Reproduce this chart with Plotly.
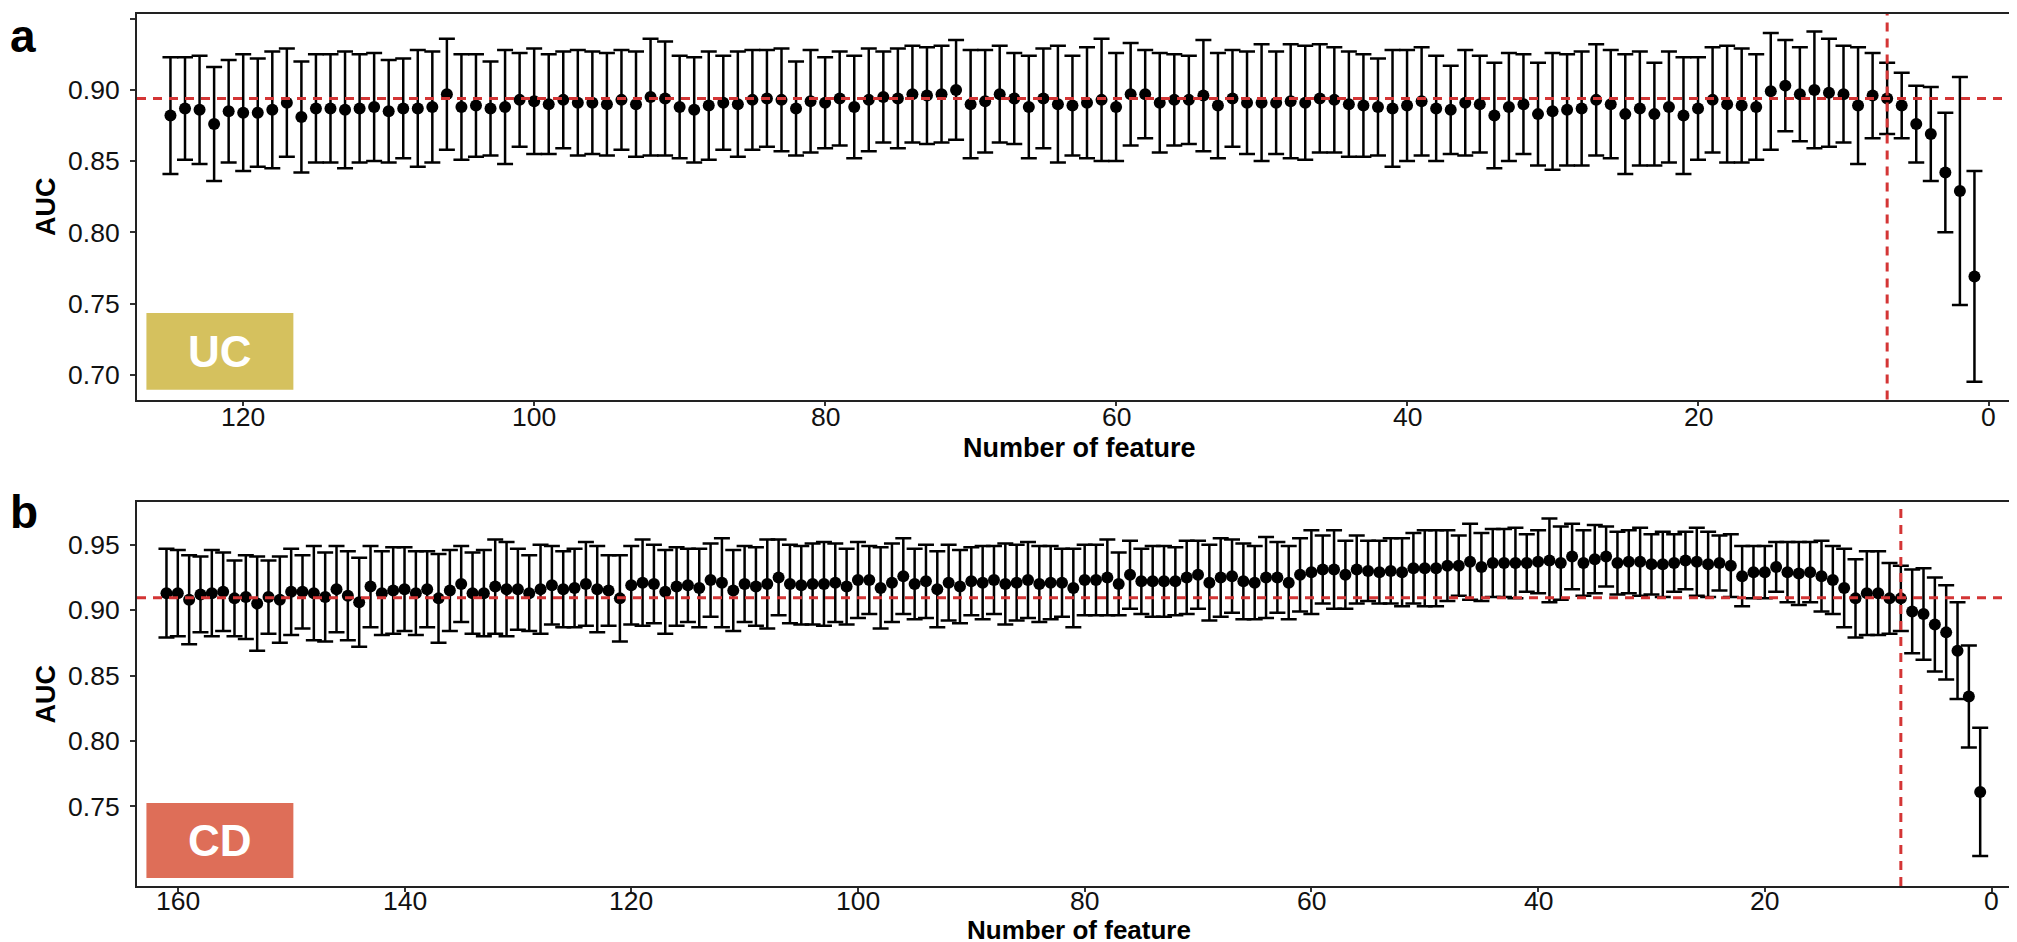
import plotly.graph_objects as go

# ---------------- data ----------------
uc_features = list(range(125, 0, -1))
uc_auc = [0.882, 0.887, 0.886, 0.876, 0.885, 0.884, 0.884, 0.886, 0.891, 0.881,
          0.887, 0.887, 0.886, 0.887, 0.888, 0.885, 0.887, 0.887, 0.888, 0.897,
          0.888, 0.889, 0.887, 0.888, 0.893, 0.892, 0.890, 0.893, 0.891, 0.891,
          0.890, 0.893, 0.890, 0.895, 0.894, 0.888, 0.886, 0.889, 0.891, 0.890,
          0.893, 0.894, 0.893, 0.887, 0.892, 0.891, 0.894, 0.888, 0.893, 0.895,
          0.894, 0.897, 0.896, 0.897, 0.900, 0.890, 0.892, 0.897, 0.894, 0.888,
          0.894, 0.890, 0.889, 0.891, 0.893, 0.888, 0.897, 0.897, 0.891, 0.893,
          0.893, 0.896, 0.889, 0.894, 0.891, 0.891, 0.891, 0.892, 0.891, 0.894,
          0.893, 0.890, 0.889, 0.888, 0.887, 0.889, 0.892, 0.887, 0.886, 0.891,
          0.890, 0.882, 0.888, 0.890, 0.883, 0.885, 0.886, 0.887, 0.893, 0.890,
          0.883, 0.887, 0.883, 0.888, 0.882, 0.887, 0.893, 0.890, 0.889, 0.888,
          0.899, 0.903, 0.897, 0.900, 0.898, 0.897, 0.889, 0.896, 0.894, 0.889,
          0.876, 0.869, 0.842, 0.829, 0.769]
uc_sd = [0.041, 0.036, 0.038, 0.040, 0.036, 0.041, 0.038, 0.041, 0.038, 0.039,
         0.038, 0.038, 0.041, 0.038, 0.038, 0.036, 0.035, 0.041, 0.039, 0.039,
         0.037, 0.036, 0.033, 0.040, 0.033, 0.037, 0.035, 0.034, 0.037, 0.036,
         0.036, 0.035, 0.037, 0.041, 0.040, 0.036, 0.037, 0.038, 0.033, 0.037,
         0.035, 0.034, 0.036, 0.033, 0.036, 0.032, 0.033, 0.036, 0.036, 0.032,
         0.035, 0.034, 0.034, 0.034, 0.035, 0.038, 0.036, 0.034, 0.032, 0.036,
         0.035, 0.041, 0.035, 0.039, 0.043, 0.038, 0.036, 0.031, 0.035, 0.032,
         0.031, 0.039, 0.037, 0.034, 0.036, 0.041, 0.036, 0.040, 0.040, 0.038,
         0.037, 0.037, 0.036, 0.034, 0.041, 0.039, 0.038, 0.037, 0.031, 0.037,
         0.034, 0.037, 0.038, 0.035, 0.036, 0.041, 0.039, 0.040, 0.039, 0.038,
         0.042, 0.040, 0.036, 0.039, 0.041, 0.036, 0.037, 0.041, 0.040, 0.037,
         0.041, 0.032, 0.033, 0.041, 0.038, 0.034, 0.041, 0.030, 0.025, 0.023,
         0.027, 0.033, 0.042, 0.080, 0.074]

cd_features = list(range(161, 0, -1))
cd_auc = [0.913, 0.913, 0.908, 0.912, 0.913, 0.914, 0.909, 0.910, 0.905, 0.910,
          0.908, 0.914, 0.914, 0.913, 0.910, 0.916, 0.911, 0.906, 0.918, 0.913,
          0.915, 0.916, 0.913, 0.916, 0.909, 0.915, 0.920, 0.913, 0.913, 0.918,
          0.916, 0.916, 0.913, 0.916, 0.919, 0.916, 0.917, 0.920, 0.916, 0.915,
          0.909, 0.919, 0.921, 0.920, 0.914, 0.918, 0.919, 0.917, 0.923, 0.921,
          0.915, 0.920, 0.918, 0.920, 0.925, 0.920, 0.919, 0.920, 0.920, 0.921,
          0.918, 0.923, 0.923, 0.917, 0.921, 0.926, 0.920, 0.922, 0.916, 0.921,
          0.918, 0.922, 0.921, 0.923, 0.920, 0.921, 0.923, 0.920, 0.921, 0.921,
          0.917, 0.923, 0.923, 0.925, 0.920, 0.927, 0.922, 0.922, 0.922, 0.922,
          0.925, 0.927, 0.921, 0.925, 0.926, 0.922, 0.921, 0.925, 0.925, 0.921,
          0.927, 0.929, 0.931, 0.931, 0.927, 0.931, 0.930, 0.929, 0.930, 0.929,
          0.932, 0.932, 0.932, 0.934, 0.934, 0.937, 0.933, 0.936, 0.936, 0.936,
          0.936, 0.937, 0.938, 0.936, 0.941, 0.936, 0.939, 0.941, 0.936, 0.937,
          0.937, 0.935, 0.935, 0.936, 0.938, 0.937, 0.935, 0.936, 0.934, 0.926,
          0.929, 0.929, 0.933, 0.929, 0.928, 0.929, 0.926, 0.923, 0.917, 0.909,
          0.913, 0.913, 0.909, 0.909, 0.899, 0.897, 0.889, 0.883, 0.869, 0.834,
          0.761]
cd_sd = [0.034, 0.033, 0.034, 0.029, 0.033, 0.030, 0.029, 0.032, 0.036, 0.028,
         0.033, 0.033, 0.028, 0.036, 0.034, 0.033, 0.034, 0.034, 0.031, 0.032,
         0.033, 0.032, 0.032, 0.029, 0.034, 0.031, 0.029, 0.031, 0.033, 0.036,
         0.036, 0.031, 0.029, 0.034, 0.030, 0.029, 0.030, 0.032, 0.033, 0.027,
         0.033, 0.030, 0.033, 0.030, 0.032, 0.030, 0.028, 0.030, 0.028, 0.034,
         0.031, 0.029, 0.030, 0.034, 0.029, 0.030, 0.030, 0.031, 0.032, 0.030,
         0.029, 0.029, 0.026, 0.031, 0.030, 0.029, 0.027, 0.028, 0.029, 0.029,
         0.028, 0.026, 0.028, 0.026, 0.031, 0.029, 0.029, 0.029, 0.028, 0.026,
         0.030, 0.027, 0.027, 0.029, 0.024, 0.026, 0.025, 0.027, 0.027, 0.026,
         0.028, 0.026, 0.029, 0.030, 0.028, 0.029, 0.028, 0.031, 0.027, 0.028,
         0.028, 0.032, 0.026, 0.030, 0.026, 0.026, 0.023, 0.024, 0.025, 0.026,
         0.027, 0.029, 0.029, 0.027, 0.023, 0.029, 0.026, 0.026, 0.026, 0.027,
         0.022, 0.024, 0.032, 0.028, 0.025, 0.025, 0.026, 0.023, 0.024, 0.024,
         0.026, 0.023, 0.025, 0.022, 0.022, 0.026, 0.025, 0.021, 0.024, 0.023,
         0.020, 0.020, 0.019, 0.023, 0.024, 0.023, 0.027, 0.026, 0.030, 0.030,
         0.032, 0.032, 0.027, 0.025, 0.032, 0.035, 0.036, 0.036, 0.037, 0.039,
         0.049]

uc_best_n, uc_best_auc = 7, 0.894
cd_best_n, cd_best_auc = 8, 0.9094

uc_xticks = [0, 20, 40, 60, 80, 100, 120]
uc_yticks = [0.70, 0.75, 0.80, 0.85, 0.90, 0.95]
cd_xticks = [0, 20, 40, 60, 80, 100, 120, 140, 160]
cd_yticks = [0.75, 0.80, 0.85, 0.90, 0.95]

x_title = "Number of feature"
y_title = "AUC"

# ---------------- style ----------------
FONT = "Liberation Sans, Arial, Helvetica, sans-serif"
RED = "#D43535"
UC_COL = "#D5C15E"
CD_COL = "#DE6E58"
TICK_SIZE = 26.5
TITLE_SIZE = 27

fig = go.Figure()

for xs, ys, sds, xa, ya in [(uc_features, uc_auc, uc_sd, "x", "y"),
                            (cd_features, cd_auc, cd_sd, "x2", "y2")]:
    fig.add_trace(go.Scatter(
        x=xs, y=ys, mode="markers", xaxis=xa, yaxis=ya, showlegend=False,
        marker=dict(color="black", size=12),
        error_y=dict(type="data", array=sds, visible=True,
                     color="black", thickness=2.5, width=8),
    ))

axis_common = dict(
    showgrid=False, zeroline=False, showline=True, mirror=True,
    linecolor="#222222", linewidth=2,
    ticks="outside", ticklen=5, tickwidth=1.5, tickcolor="#333333",
    tickfont=dict(family=FONT, size=TICK_SIZE, color="#111111"),
)
ytitle_font = dict(family=FONT, size=TITLE_SIZE, color="black", weight="bold")

fig.update_layout(
    width=2017, height=942,
    margin=dict(l=129, r=2, t=6, b=64),
    paper_bgcolor="white", plot_bgcolor="white",
    font=dict(family=FONT),
    xaxis=dict(axis_common, domain=[0, 1], anchor="y", ticklen=4,
               range=[127.3, -2.2], tickvals=uc_xticks, showticklabels=False),
    yaxis=dict(axis_common, domain=[0.5579, 1], anchor="x",
               range=[0.6826, 0.9533], tickvals=uc_yticks, tickformat=".2f",
               ticklabelstandoff=5,
               title=dict(text=y_title, standoff=5, font=ytitle_font)),
    xaxis2=dict(axis_common, domain=[0, 1], anchor="y2", ticklen=4,
                range=[163.6, -2.6], tickvals=cd_xticks, showticklabels=False),
    yaxis2=dict(axis_common, domain=[0, 0.4398], anchor="x2",
                range=[0.6891, 0.9823], tickvals=cd_yticks, tickformat=".2f",
                ticklabelstandoff=5,
                title=dict(text=y_title, standoff=5, font=ytitle_font)),
)

shapes = []
for xa, ya, bn, ba in [("x", "y", uc_best_n, uc_best_auc),
                       ("x2", "y2", cd_best_n, cd_best_auc)]:
    shapes.append(dict(type="line", xref=f"{xa} domain", yref=ya,
                       x0=0, x1=1, y0=ba, y1=ba, layer="above",
                       line=dict(color=RED, width=3, dash="9px,7px")))
    shapes.append(dict(type="line", xref=xa, yref=f"{ya} domain",
                       x0=bn, x1=bn, y0=0, y1=1, layer="above",
                       line=dict(color=RED, width=3, dash="9px,7px")))

# label boxes
shapes.append(dict(type="rect", xref="paper", yref="paper",
                   x0=0.005, x1=0.083, y0=0.5692, y1=0.6571,
                   fillcolor=UC_COL, line=dict(width=0), layer="above"))
shapes.append(dict(type="rect", xref="paper", yref="paper",
                   x0=0.005, x1=0.083, y0=0.0092, y1=0.0952,
                   fillcolor=CD_COL, line=dict(width=0), layer="above"))
fig.update_layout(shapes=shapes)

annotations = [
    dict(text="UC", xref="paper", yref="paper", x=0.044, y=0.6135,
         xanchor="center", yanchor="middle", showarrow=False,
         font=dict(family=FONT, size=44, color="white", weight="bold")),
    dict(text="CD", xref="paper", yref="paper", x=0.044, y=0.0522,
         xanchor="center", yanchor="middle", showarrow=False,
         font=dict(family=FONT, size=44, color="white", weight="bold")),
    dict(text="a", xref="paper", yref="paper", x=-0.0684, y=1.0069,
         xanchor="left", yanchor="top", showarrow=False,
         font=dict(family=FONT, size=46, color="black", weight="bold")),
    dict(text="b", xref="paper", yref="paper", x=-0.0684, y=0.4289,
         xanchor="left", yanchor="middle", showarrow=False,
         font=dict(family=FONT, size=46, color="black", weight="bold")),
    # x-axis titles
    dict(text=x_title, xref="paper", yref="paper", x=0.5, y=0.5023,
         xanchor="center", yanchor="middle", showarrow=False, borderpad=0,
         font=dict(family=FONT, size=TITLE_SIZE, color="black", weight="bold")),
    dict(text=x_title, xref="paper", yref="paper", x=0.5, y=-0.0510,
         xanchor="center", yanchor="middle", showarrow=False, borderpad=0,
         font=dict(family=FONT, size=26, color="black", weight="bold")),
]
# x tick labels, placed on the axes' own scale
for v in uc_xticks:
    annotations.append(dict(text=str(v), xref="x", yref="paper", x=v, y=0.5378,
                            xanchor="center", yanchor="middle", showarrow=False,
                            borderpad=0,
                            font=dict(family=FONT, size=TICK_SIZE, color="#111111")))
for v in cd_xticks:
    annotations.append(dict(text=str(v), xref="x2", yref="paper", x=v, y=-0.0172,
                            xanchor="center", yanchor="middle", showarrow=False,
                            borderpad=0,
                            font=dict(family=FONT, size=TICK_SIZE, color="#111111")))
fig.update_layout(annotations=annotations)

fig.write_html("out.html")
